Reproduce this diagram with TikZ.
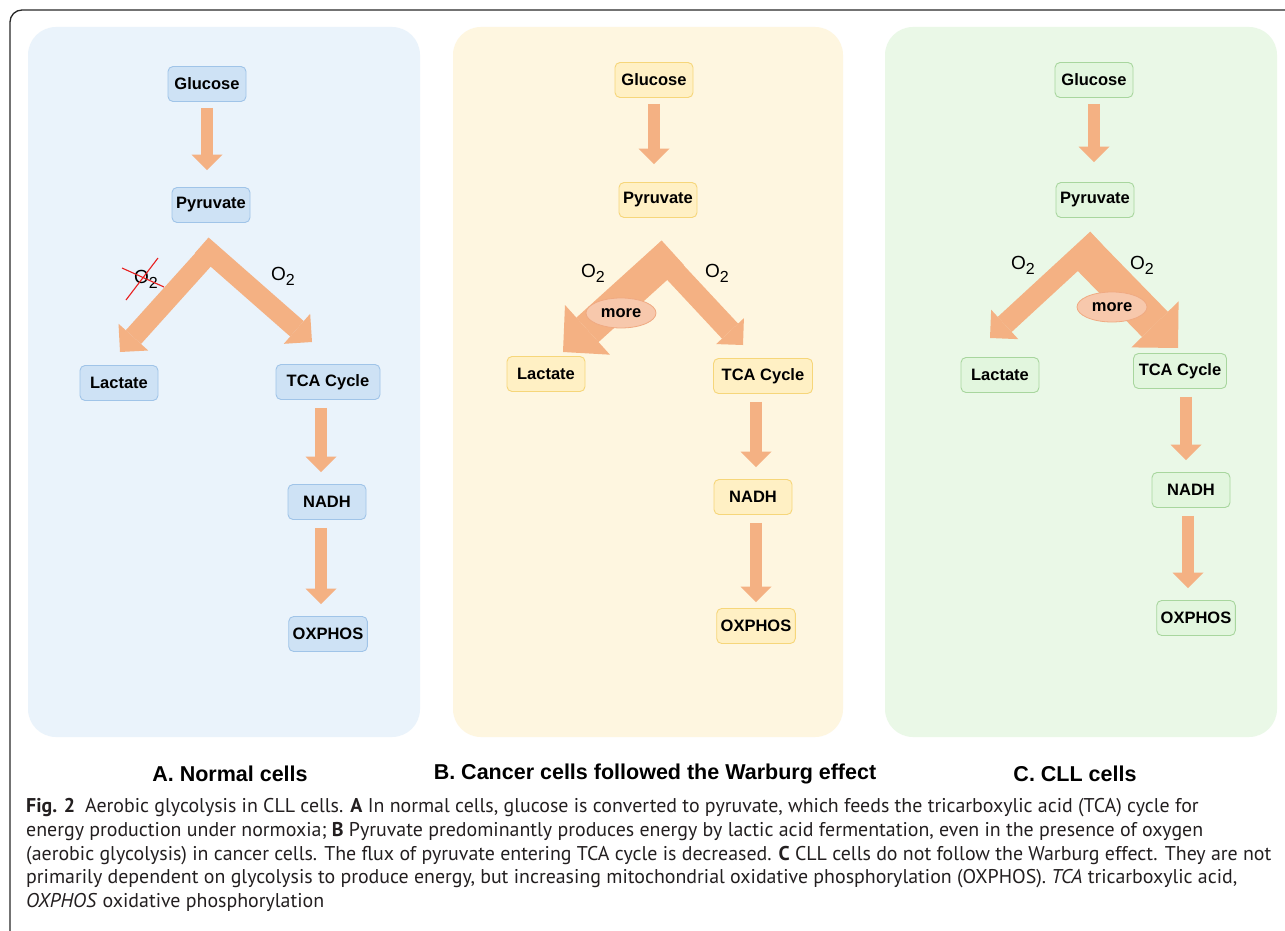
\documentclass[tikz,border=0pt]{standalone}
\usepackage{fontspec}
\setmainfont{Liberation Sans}
\newfontfamily\capfont{PT Sans}
\usetikzlibrary{arrows.meta,calc,shapes.geometric}
\definecolor{PanelBlue}{RGB}{234,243,251}
\definecolor{PanelYellow}{RGB}{254,246,224}
\definecolor{PanelGreen}{RGB}{234,248,231}
\definecolor{BoxBlue}{RGB}{206,226,245}
\definecolor{LineBlue}{RGB}{160,196,232}
\definecolor{BoxYellow}{RGB}{255,240,196}
\definecolor{LineYellow}{RGB}{246,214,122}
\definecolor{BoxGreen}{RGB}{226,246,222}
\definecolor{LineGreen}{RGB}{168,214,158}
\definecolor{FluxOrange}{RGB}{244,177,131}
\definecolor{MoreFill}{RGB}{247,200,172}
\definecolor{MoreLine}{RGB}{240,170,130}
\definecolor{CrossRed}{RGB}{232,30,30}
\definecolor{FrameGray}{RGB}{40,40,40}
\definecolor{CapText}{RGB}{35,31,32}
\newcommand{\oxy}{O\raisebox{-5pt}{\fontsize{16}{16}\selectfont 2}}

\begin{document}
\begin{tikzpicture}[x=1pt, y=-1pt,
  metab/.style={rounded corners=5pt, line width=0.9pt, minimum width=78pt, minimum height=35pt, inner xsep=4pt, font=\bfseries\fontsize{16.5}{18}\selectfont},
  metabA/.style={metab, fill=BoxBlue, draw=LineBlue},
  metabB/.style={metab, fill=BoxYellow, draw=LineYellow},
  metabC/.style={metab, fill=BoxGreen, draw=LineGreen},
  flow/.style={draw=FluxOrange, line width=12pt, shorten <=8pt, shorten >=12pt, -{Triangle[width=31pt,length=15.5pt,line width=0pt]}},
  arm/.style n args={3}{draw=FluxOrange, line width=#1, -{Triangle[width=#2,length=#3,line width=0pt]}},
  otwo/.style={inner sep=0pt, font=\fontsize{19}{20}\selectfont},
  more/.style={ellipse, fill=MoreFill, draw=MoreLine, line width=0.8pt, minimum width=70pt, minimum height=30pt, inner sep=0pt, font=\bfseries\fontsize{16.5}{18}\selectfont},
  panel/.style={rounded corners=28pt},
  title/.style={font=\bfseries\fontsize{21.5}{24}\selectfont}]
  \useasboundingbox (0,0) rectangle (1285,931);
  \fill[white] (0,0) rectangle (1285,931);
  \draw[FrameGray, line width=1.3pt, rounded corners=12pt] (10,931) -- (10,10) -- (1285,10);
  % panels
  \fill[panel, PanelBlue] (28,27) rectangle (420,737);
  \fill[panel, PanelYellow] (453,27) rectangle (843,737);
  \fill[panel, PanelGreen] (885,27) rectangle (1277,737);

  % A. normal cells
  \node[metabA] (A-glu) at (207,84) {Glucose};
  \node[metabA] (A-pyr) at (211,205) {Pyruvate};
  \node[metabA] (A-lac) at (119,383) {Lactate};
  \node[metabA, minimum width=104pt] (A-tca) at (328,382) {TCA Cycle};
  \node[metabA] (A-nadh) at (327,502) {NADH};
  \node[metabA] (A-ox) at (328,634) {OXPHOS};
  \draw[flow, shorten <=6pt, shorten >=17pt] (A-glu.south) -- (A-glu.south |- A-pyr.north);
  \draw[flow, transform canvas={xshift=-6pt}] (A-tca.south -| A-nadh) -- (A-nadh.north);
  \draw[flow, transform canvas={xshift=-6pt}] (A-nadh.south) -- (A-nadh.south |- A-ox.north);
  \coordinate (A-fork) at (209,238);
  \coordinate (A-toL) at (120,352);
  \coordinate (A-toT) at (312,342);
  \draw[arm={20.5pt}{40pt}{20pt}] ($(A-fork)+(7.2,7.2)$) -- (A-toL);
  \draw[arm={20.5pt}{40pt}{20pt}] ($(A-fork)+(-7.2,7.2)$) -- (A-toT);
  \node[otwo] (A-o2L) at (146,279) {\oxy};
  \node[otwo] (A-o2R) at (283,276) {\oxy};
  \draw[CrossRed, line width=1.1pt] (122,268) -- (164,287) (158,258) -- (126,300);

  % B. Warburg effect
  \node[metabB] (B-glu) at (654,80) {Glucose};
  \node[metabB] (B-pyr) at (658,200) {Pyruvate};
  \node[metabB] (B-lac) at (546,374) {Lactate};
  \node[metabB, minimum width=99pt] (B-tca) at (763,376) {TCA Cycle};
  \node[metabB] (B-nadh) at (753,497) {NADH};
  \node[metabB] (B-ox) at (756,626) {OXPHOS};
  \draw[flow, shorten <=6pt, shorten >=18pt] (B-glu.south) -- (B-glu.south |- B-pyr.north);
  \draw[flow] (B-tca.south -| B-ox) -- (B-nadh.north -| B-ox);
  \draw[flow, shorten >=6pt] (B-nadh.south -| B-ox) -- (B-ox.north);
  \coordinate (B-fork) at (661,241);
  \coordinate (B-toL) at (563,352);
  \coordinate (B-toT) at (743,345);
  \draw[arm={22pt}{38pt}{19pt}] ($(B-fork)+(-7.8,7.8)$) -- (B-toT);
  \draw[arm={33pt}{67pt}{33pt}] ($(B-fork)+(11.7,11.7)$) -- (B-toL);
  \node[more] (B-more) at (621,313) {more};
  \node[otwo] (B-o2L) at (593,273) {\oxy};
  \node[otwo] (B-o2R) at (717,273) {\oxy};

  % C. CLL cells
  \node[metabC] (C-glu) at (1094,80) {Glucose};
  \node[metabC] (C-pyr) at (1095,200) {Pyruvate};
  \node[metabC] (C-lac) at (1000,375) {Lactate};
  \node[metabC, minimum width=93pt] (C-tca) at (1180,371) {TCA Cycle};
  \node[metabC] (C-nadh) at (1191,490) {NADH};
  \node[metabC] (C-ox) at (1196,618) {OXPHOS};
  \draw[flow, shorten <=6pt, shorten >=20pt] (C-glu.south) -- (C-glu.south |- C-pyr.north);
  \draw[flow, transform canvas={xshift=-5pt}] (C-tca.south -| C-nadh) -- (C-nadh.north);
  \draw[flow, transform canvas={xshift=-3pt}] (C-nadh.south) -- (C-nadh.south |- C-ox.north);
  \coordinate (C-fork) at (1090,232);
  \coordinate (C-toL) at (990,338);
  \coordinate (C-toT) at (1178,348);
  \draw[arm={20.5pt}{40pt}{20pt}] ($(C-fork)+(7.2,7.2)$) -- (C-toL);
  \draw[arm={36pt}{66pt}{33pt}] ($(C-fork)+(-12.7,12.7)$) -- (C-toT);
  \node[more] (C-more) at (1112,307) {more};
  \node[otwo] (C-o2L) at (1023,265) {\oxy};
  \node[otwo] (C-o2R) at (1142,265) {\oxy};

  % titles and caption
  \node[title] (A-title) at (230,774) {A. Normal cells};
  \node[title] (B-title) at (655,774) {B. Cancer cells followed the Warburg effect};
  \node[title] (C-title) at (1075,774) {C. CLL cells};
  \node[anchor=north west, align=left, inner sep=0pt, text=CapText, font=\capfont\fontsize{19.9}{23.8}\selectfont] (caption) at (26,798)
    {\textbf{Fig. 2}\enspace Aerobic glycolysis in CLL cells. \textbf{A} In normal cells, glucose is converted to pyruvate, which feeds the tricarboxylic acid (TCA) cycle for\\
     energy production under normoxia; \textbf{B} Pyruvate predominantly produces energy by lactic acid fermentation, even in the presence of oxygen\\
     (aerobic glycolysis) in cancer cells. The flux of pyruvate entering TCA cycle is decreased. \textbf{C} CLL cells do not follow the Warburg effect. They are not\\
     primarily dependent on glycolysis to produce energy, but increasing mitochondrial oxidative phosphorylation (OXPHOS). \textit{TCA} tricarboxylic acid,\\
     \textit{OXPHOS} oxidative phosphorylation};
\end{tikzpicture}
\end{document}
